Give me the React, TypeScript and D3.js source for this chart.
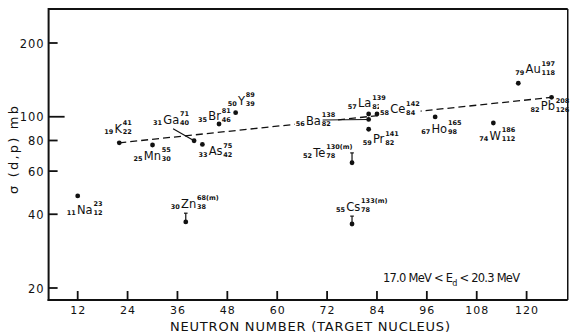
import React from "react";
import * as d3 from "d3";

// ---------- data ----------
const symbols = ["Na", "K", "Mn", "Ga", "As", "Br", "Y", "Ba", "La", "Ce", "Pr", "Te", "Cs", "Zn", "Ho", "W", "Au", "Pb"];
const atomicZ = ["11", "19", "25", "31", "33", "35", "50", "56", "57", "58", "59", "52", "55", "30", "67", "74", "79", "82"];
const massA = ["23", "41", "55", "71", "75", "81", "89", "138", "139", "142", "141", "130(m)", "133(m)", "68(m)", "165", "186", "197", "208"];
const neutronLabel = ["12", "22", "30", "40", "42", "46", "39", "82", "82", "84", "82", "78", "78", "38", "98", "112", "118", "126"];
const neutronN = [12, 22, 30, 40, 42, 46, 50, 82, 82, 84, 82, 78, 78, 38, 98, 112, 118, 126];
const sigmaMb = [47.5, 78.3, 76.7, 79.8, 77.1, 93.4, 103.9, 97.5, 102.6, 102.6, 88.9, 64.9, 36.5, 37.2, 99.8, 94.3, 137, 120];
const sigmaUpper: (number | null)[] = [null, null, null, null, null, null, null, null, null, null, null, 71.2, 39.3, 40.4, null, null, null, null];
const trendN = [22, 126];
const trendSigma = [78.3, 120];
const xTicks = [12, 24, 36, 48, 60, 72, 84, 96, 108, 120];
const yTicks = [20, 40, 60, 80, 100, 200];
const xTitle = "NEUTRON NUMBER (TARGET NUCLEUS)";
const yTitle = "σ (d,p) mb";
const notePre = "17.0 MeV < E";
const noteSub = "d";
const notePost = " < 20.3 MeV";

// ---------- layout (label offsets relative to each point, px) ----------
const labelOffsets: [number, number][] = [
  [-11, 18], [-15, -10], [-19, 15], [-41, -17], [-4, 11], [-21, -4], [-8, -8], [-73, 5.5], [-21, -7],
  [3, -1], [-6, 14], [-49, -6], [-16, -13], [-15, -14], [-14, 16], [-14, 17], [-3, -10], [-21, 13],
];
const knockout = ["Ba", "Ce"];
const connectors: { sym: string; dx: number; dy: number }[] = [
  { sym: "Ga", dx: -21, dy: -12 },
  { sym: "Ba", dx: -46, dy: 0.5 },
];

const FONT = "'DejaVu Sans', 'Liberation Sans', sans-serif";
const INK = "#111";

let ctx: CanvasRenderingContext2D | null = null;
function tw(text: string, size: number, weight = "normal") {
  if (!ctx && typeof document !== "undefined") ctx = document.createElement("canvas").getContext("2d");
  if (!ctx) return text.length * size * 0.6;
  ctx.font = `${weight} ${size}px ${FONT}`;
  return ctx.measureText(text).width;
}

const SMALL = 6.5;
const SYM = 11.5;

function NuclideLabel({ x, y, z, sym, a, n, ko }: any) {
  const wz = tw(z, SMALL, "bold");
  const symX = x + wz + 1.2;
  const ws = tw(sym, SYM);
  const supX = symX + ws + 0.8;
  const wsup = Math.max(tw(a, SMALL, "bold"), tw(n, SMALL, "bold"));
  const small = { fontSize: SMALL, fontWeight: "bold" as const, fontFamily: FONT, fill: INK };
  return (
    <g>
      {ko && <rect x={x - 1} y={y - 13} width={supX + wsup - x + 2} height={17} fill="white" />}
      <text x={x} y={y + 1.5} {...small}>{z}</text>
      <text x={symX} y={y} fontSize={SYM} fontFamily={FONT} fill={INK}>{sym}</text>
      <text x={supX} y={y - 7.5} {...small}>{a}</text>
      <text x={supX} y={y + 1.5} {...small}>{n}</text>
    </g>
  );
}

export default function App() {
  const W = 570, H = 333;
  const x = d3.scaleLinear().domain([12, 120]).range([77.7, 526.6]);
  const y = d3.scaleLog().domain([20, 200]).range([288, 43]);

  const left = x(5), right = x(129.9);
  const top = y(275.6), bottom = y(17.87);

  const trendPath = d3.line<number>()
    .x((_, i) => x(trendN[i]))
    .y((d) => y(d))(trendSigma) as string;

  return (
    <svg width={W} height={H} style={{ position: "absolute", left: 0, top: 0, background: "white" }}>
      <rect width={W} height={H} fill="white" />
      {/* frame */}
      <line x1={left} x2={right} y1={top} y2={top} stroke={INK} strokeWidth={2} />
      <line x1={right} x2={right} y1={top} y2={bottom} stroke={INK} strokeWidth={1.5} />
      <line x1={left - 1} x2={right} y1={bottom} y2={bottom} stroke={INK} strokeWidth={2} />
      <line x1={left} x2={left} y1={top - 1} y2={bottom + 1} stroke={INK} strokeWidth={2} />

      {/* y ticks */}
      {yTicks.map((t) => (
        <g key={"y" + t}>
          <line x1={left} x2={left + (t === 100 ? 16 : 9)} y1={y(t)} y2={y(t)} stroke={INK} strokeWidth={1.8} />
          <text x={left - 4} y={y(t) + 4.5} textAnchor="end" fontSize={11.5} letterSpacing={1}
            fontFamily={FONT} fill={INK}>{String(t)}</text>
        </g>
      ))}
      {/* x ticks */}
      {xTicks.map((t) => (
        <g key={"x" + t}>
          <line x1={x(t)} x2={x(t)} y1={bottom} y2={bottom - 9} stroke={INK} strokeWidth={1.8} />
          <text x={x(t) + 0.5} y={bottom + 14} textAnchor="middle" fontSize={11} letterSpacing={1}
            fontFamily={FONT} fill={INK}>{String(t)}</text>
        </g>
      ))}
      <text x={310} y={331} textAnchor="middle" fontSize={13} fontFamily={FONT} fill={INK}
        textLength={280} lengthAdjust="spacing">{xTitle}</text>
      <text transform="translate(18,150) rotate(-90)" textAnchor="middle" fontSize={13} fontFamily={FONT}
        fill={INK} textLength={88} lengthAdjust="spacing">{yTitle}</text>

      {/* trend */}
      <path d={trendPath} fill="none" stroke={INK} strokeWidth={1.3} strokeDasharray="7 4" />

      {/* labels */}
      {symbols.map((s, i) => {
        const px = x(neutronN[i]), py = y(sigmaMb[i]);
        const [dx, dy] = labelOffsets[i];
        return (
          <NuclideLabel key={"l" + i} x={px + dx} y={py + dy} z={atomicZ[i]} sym={s} a={massA[i]}
            n={neutronLabel[i]} ko={knockout.includes(s)} />
        );
      })}

      {/* connectors */}
      {connectors.map((c) => {
        const i = symbols.indexOf(c.sym);
        const px = x(neutronN[i]), py = y(sigmaMb[i]);
        return <line key={"c" + c.sym} x1={px + c.dx} y1={py + c.dy} x2={px} y2={py} stroke={INK} strokeWidth={1.1} />;
      })}

      {/* error bars */}
      {sigmaUpper.map((u, i) =>
        u == null ? null : (
          <g key={"e" + i}>
            <line x1={x(neutronN[i])} x2={x(neutronN[i])} y1={y(sigmaMb[i])} y2={y(u)} stroke={INK} strokeWidth={1.2} />
            <line x1={x(neutronN[i]) - 1.8} x2={x(neutronN[i]) + 1.8} y1={y(u)} y2={y(u)} stroke={INK} strokeWidth={1.2} />
          </g>
        )
      )}

      {/* points */}
      {sigmaMb.map((v, i) => (
        <circle key={"p" + i} cx={x(neutronN[i])} cy={y(v)} r={2.4} fill={INK} />
      ))}

      {/* note */}
      <text x={383} y={282} fontSize={11.5} fontFamily={FONT} fill={INK} textLength={137} lengthAdjust="spacing">
        {notePre}
        <tspan dy={4} fontSize={8}>{noteSub}</tspan>
        <tspan dy={-4}>{notePost}</tspan>
      </text>
    </svg>
  );
}
